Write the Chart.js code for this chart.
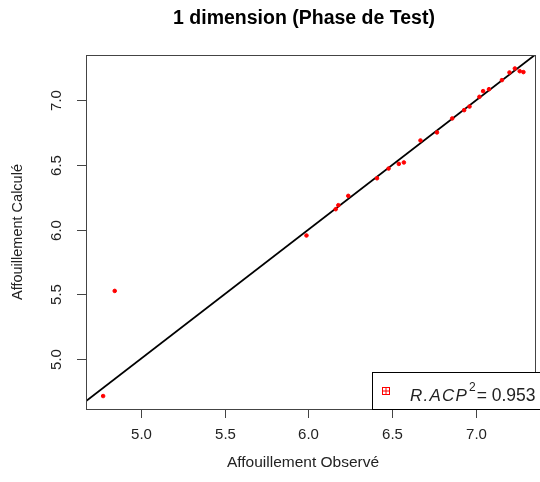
<!DOCTYPE html>
<html><head><meta charset="utf-8">
<script src="https://cdn.jsdelivr.net/npm/chart.js@4"></script>
<style>html,body{margin:0;padding:0;background:#fff}canvas{display:block}</style>
</head><body>
<canvas id="c" width="540" height="482"></canvas>
<script>
const titleText = "1 dimension (Phase de Test)";
const xTitle = "Affouillement Observé";
const yTitle = "Affouillement Calculé";
const xTicks = [5.0, 5.5, 6.0, 6.5, 7.0];
const yTicks = [5.0, 5.5, 6.0, 6.5, 7.0];
const observe = [4.777, 4.846, 5.988, 6.162, 6.178, 6.237, 6.408, 6.477, 6.538, 6.568, 6.667, 6.765, 6.856, 6.927, 6.959, 7.018, 7.040, 7.075, 7.152, 7.197, 7.229, 7.258, 7.280];
const calcule = [4.714, 5.526, 5.954, 6.157, 6.188, 6.260, 6.396, 6.471, 6.507, 6.518, 6.688, 6.750, 6.858, 6.922, 6.950, 7.025, 7.069, 7.084, 7.154, 7.213, 7.244, 7.223, 7.216];
const refLine = [4.5, 7.5];
const legendLabel = {name: "R.ACP", exp: "2", value: "= 0.953"};

const pts = observe.map((v, i) => ({x: v, y: calcule[i]}));
const linePts = refLine.map(v => ({x: v, y: v}));

const decor = {
  id: 'decor',
  afterDraw(chart) {
    const ctx = chart.ctx, a = chart.chartArea;
    const xs = chart.scales.x, ys = chart.scales.y;
    ctx.save();
    // box
    ctx.strokeStyle = '#444'; ctx.lineWidth = 1;
    ctx.strokeRect(Math.round(a.left) + 0.5, Math.round(a.top) + 0.5, a.right - a.left, a.bottom - a.top);
    // x ticks
    ctx.fillStyle = '#222';
    ctx.font = '15px "Liberation Sans", Arial, sans-serif';
    ctx.textAlign = 'center'; ctx.textBaseline = 'middle';
    xTicks.forEach(t => {
      const px = Math.round(xs.getPixelForValue(t)) + 0.5;
      ctx.beginPath(); ctx.moveTo(px, a.bottom); ctx.lineTo(px, a.bottom + 9); ctx.stroke();
      ctx.fillText(t.toFixed(1), px, 435);
    });
    // y ticks (rotated labels)
    yTicks.forEach(t => {
      const py = Math.round(ys.getPixelForValue(t)) + 0.5;
      ctx.beginPath(); ctx.moveTo(a.left, py); ctx.lineTo(a.left - 9, py); ctx.stroke();
      ctx.save(); ctx.translate(57, py); ctx.rotate(-Math.PI / 2);
      ctx.fillText(t.toFixed(1), 0, 0); ctx.restore();
    });
    // axis titles
    ctx.font = '15.5px "Liberation Sans", Arial, sans-serif';
    ctx.fillText(xTitle, 303, 463);
    ctx.font = '14.5px "Liberation Sans", Arial, sans-serif';
    ctx.save(); ctx.translate(18, (a.top + a.bottom) / 2); ctx.rotate(-Math.PI / 2);
    ctx.fillText(yTitle, 0, 0); ctx.restore();
    // main title
    ctx.fillStyle = '#000';
    ctx.font = 'bold 19.5px "Liberation Sans", Arial, sans-serif';
    ctx.fillText(titleText, 304, 19);
    // legend
    const lx = 372, ly = 372, lb = a.bottom;
    ctx.fillStyle = '#fff';
    ctx.fillRect(lx, ly, 540 - lx, lb - ly);
    ctx.strokeStyle = '#000';
    ctx.strokeRect(lx + 0.5, ly + 0.5, 545 - lx, lb - ly);
    ctx.strokeStyle = '#f00';
    ctx.strokeRect(382.5, 387.5, 7, 7);
    ctx.beginPath(); ctx.moveTo(382.5, 391); ctx.lineTo(389.5, 391); ctx.moveTo(386, 387.5); ctx.lineTo(386, 394.5); ctx.stroke();
    ctx.fillStyle = '#222';
    ctx.textAlign = 'left'; ctx.textBaseline = 'alphabetic';
    let x = 410;
    ctx.font = 'italic 17px "Liberation Sans", Arial, sans-serif';
    ctx.letterSpacing = '1.2px';
    ctx.fillText(legendLabel.name, x, 401); x += ctx.measureText(legendLabel.name).width + 1;
    ctx.letterSpacing = '0px';
    ctx.font = '12px "Liberation Sans", Arial, sans-serif';
    ctx.fillText(legendLabel.exp, x, 391); x += ctx.measureText(legendLabel.exp).width + 1;
    ctx.font = '17.5px "Liberation Sans", Arial, sans-serif';
    ctx.fillText(legendLabel.value, x, 401);
    ctx.restore();
  }
};

new Chart(document.getElementById('c'), {
  type: 'scatter',
  data: {
    datasets: [
      {data: linePts, showLine: true, borderColor: '#000', borderWidth: 1.8, pointRadius: 0, order: 2},
      {data: pts, pointStyle: 'circle', pointRadius: 1.8, backgroundColor: '#f00', borderColor: '#f00', borderWidth: 1, order: 1}
    ]
  },
  options: {
    responsive: false, animation: false, devicePixelRatio: 1,
    layout: {padding: {top: 55, right: 2, left: 0, bottom: 0}},
    plugins: {legend: {display: false}, title: {display: false}, tooltip: {enabled: false}},
    scales: {
      x: {type: 'linear', min: 4.675, max: 7.349, ticks: {display: false}, grid: {display: false}, border: {display: false},
          afterFit(s) { s.height = 73; }},
      y: {type: 'linear', min: 4.614, max: 7.348, ticks: {display: false}, grid: {display: false}, border: {display: false},
          afterFit(s) { s.width = 86; }}
    }
  },
  plugins: [decor]
});
</script>
</body></html>
